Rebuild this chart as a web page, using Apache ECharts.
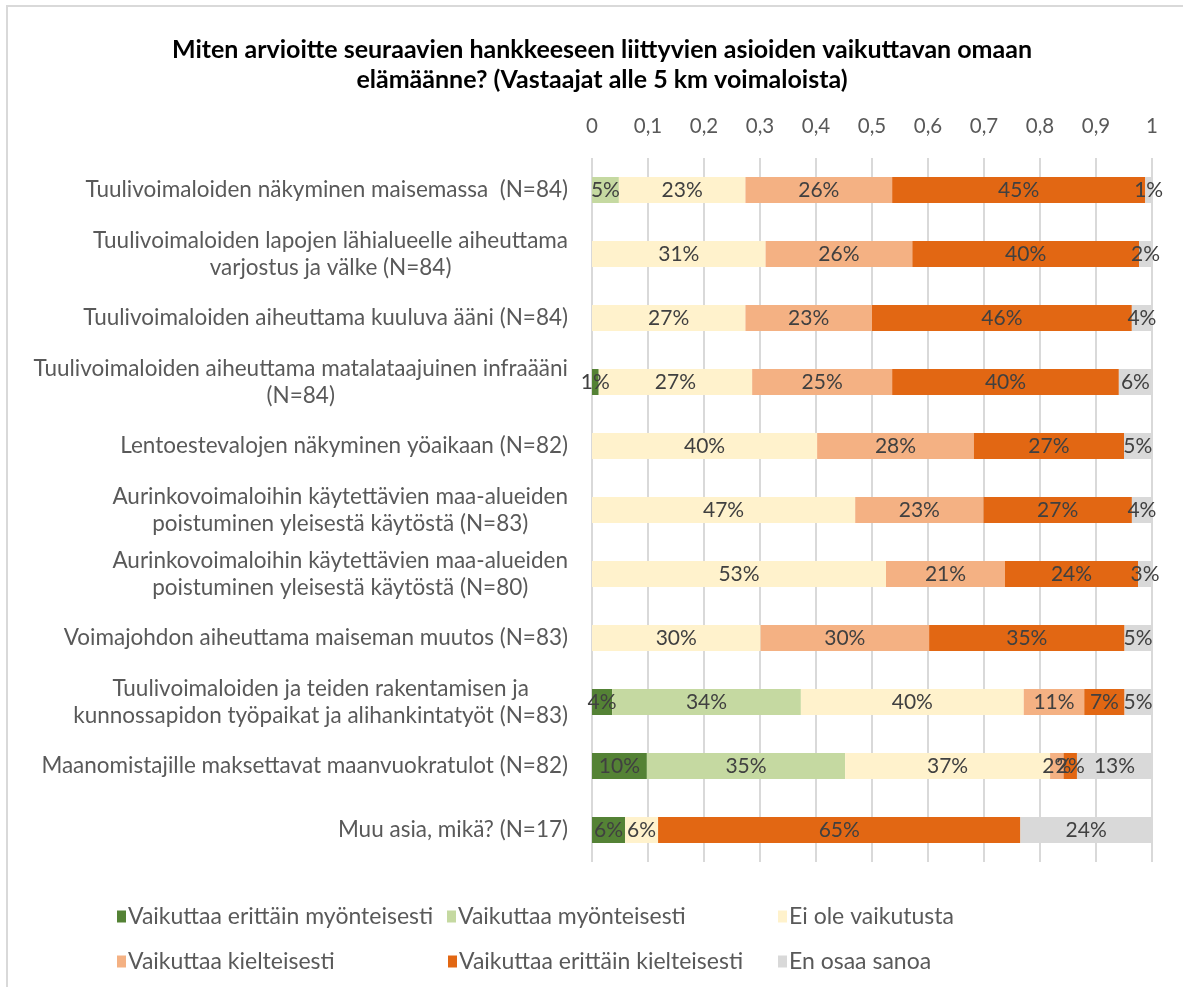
<!DOCTYPE html>
<html>
<head>
<meta charset="utf-8">
<script src="https://cdn.jsdelivr.net/npm/echarts@6/dist/echarts.min.js"></script>
<style>
html,body{margin:0;padding:0;background:#fff;}
#chart{width:1183px;height:987px;}
</style>
</head>
<body>
<div id="chart"></div>
<script>
const titleText = 'Miten arvioitte seuraavien hankkeeseen liittyvien asioiden vaikuttavan omaan\nelämäänne? (Vastaajat alle 5 km voimaloista)';

const categories = [
  'Tuulivoimaloiden näkyminen maisemassa  (N=84)',
  'Tuulivoimaloiden lapojen lähialueelle aiheuttama\nvarjostus ja välke (N=84)',
  'Tuulivoimaloiden aiheuttama kuuluva ääni (N=84)',
  'Tuulivoimaloiden aiheuttama matalataajuinen infraääni\n(N=84)',
  'Lentoestevalojen näkyminen yöaikaan (N=82)',
  'Aurinkovoimaloihin käytettävien maa-alueiden\npoistuminen yleisestä käytöstä (N=83)',
  'Aurinkovoimaloihin käytettävien maa-alueiden\npoistuminen yleisestä käytöstä (N=80)',
  'Voimajohdon aiheuttama maiseman muutos (N=83)',
  'Tuulivoimaloiden ja teiden rakentamisen ja\nkunnossapidon työpaikat ja alihankintatyöt (N=83)',
  'Maanomistajille maksettavat maanvuokratulot (N=82)',
  'Muu asia, mikä? (N=17)'
];

const seriesNames = [
  'Vaikuttaa erittäin myönteisesti',
  'Vaikuttaa myönteisesti',
  'Ei ole vaikutusta',
  'Vaikuttaa kielteisesti',
  'Vaikuttaa erittäin kielteisesti',
  'En osaa sanoa'
];

const erittainMyonteisesti = [0, 0, 0, 0.012, 0, 0, 0, 0, 0.036, 0.098, 0.059];
const myonteisesti        = [0.048, 0, 0, 0, 0, 0, 0, 0, 0.337, 0.354, 0];
const eiVaikutusta        = [0.226, 0.310, 0.274, 0.274, 0.402, 0.470, 0.525, 0.301, 0.398, 0.366, 0.059];
const kielteisesti        = [0.262, 0.262, 0.226, 0.250, 0.280, 0.229, 0.2125, 0.301, 0.108, 0.024, 0];
const erittainKielteisesti= [0.452, 0.4048, 0.464, 0.4048, 0.268, 0.2651, 0.2375, 0.349, 0.072, 0.024, 0.647];
const enOsaaSanoa         = [0.012, 0.024, 0.036, 0.060, 0.049, 0.036, 0.025, 0.048, 0.048, 0.134, 0.2353];

const xTicks = ['0','0,1','0,2','0,3','0,4','0,5','0,6','0,7','0,8','0,9','1'];

const seriesValues = [erittainMyonteisesti, myonteisesti, eiVaikutusta, kielteisesti, erittainKielteisesti, enOsaaSanoa];
const colors = ['#548235', '#C5D9A1', '#FFF2CC', '#F4B183', '#E26713', '#D9D9D9'];

const FONT = 'Lato';

const chart = echarts.init(document.getElementById('chart'), null, {renderer: 'canvas'});

const series = seriesNames.map((name, i) => ({
  name: name,
  type: 'bar',
  stack: 'total',
  barWidth: 26,
  itemStyle: {color: colors[i]},
  label: {
    show: true,
    position: 'inside',
    color: '#404040',
    fontFamily: FONT,
    fontSize: 21,
    formatter: p => p.value > 0 ? Math.round(p.value * 100) + '%' : ''
  },
  emphasis: {disabled: true},
  data: seriesValues[i]
}));

const legendPos = [
  [112, 900], [442, 900], [773, 900],
  [112, 945], [443, 945], [773, 945]
];
const legends = seriesNames.map((name, i) => ({
  data: [name],
  left: legendPos[i][0],
  top: legendPos[i][1],
  orient: 'horizontal',
  icon: 'rect',
  itemWidth: 9,
  itemHeight: 12,
  itemGap: 0,
  selectedMode: false,
  textStyle: {color: '#595959', fontFamily: FONT, fontSize: 23, padding: [0, 0, 0, -3]}
}));

const option = {
  animation: false,
  backgroundColor: '#fff',
  title: {
    text: titleText,
    left: 597,
    textAlign: 'center',
    top: 30,
    textStyle: {fontFamily: FONT, fontWeight: 'bold', fontSize: 25, color: '#000', lineHeight: 30}
  },
  legend: legends,
  grid: {left: 592, right: 31, top: 158, bottom: 125, containLabel: false},
  xAxis: {
    type: 'value',
    position: 'top',
    min: 0,
    max: 1,
    interval: 0.1,
    axisLine: {show: false},
    axisTick: {show: false},
    axisLabel: {
      color: '#595959',
      fontFamily: FONT,
      fontSize: 20.5,
      margin: 21,
      formatter: v => xTicks[Math.round(v * 10)]
    },
    splitLine: {show: true, lineStyle: {color: '#D9D9D9', width: 2}}
  },
  yAxis: {
    type: 'category',
    inverse: true,
    data: categories,
    axisLine: {show: false},
    axisTick: {show: false},
    axisLabel: {
      margin: 24,
      color: '#595959',
      fontFamily: FONT,
      fontSize: 22.5,
      lineHeight: 27,
      formatter: v => v.split('\n').map(l => '{c|' + l + '}').join('\n'),
      rich: {c: {align: 'center', color: '#595959', fontFamily: FONT, fontSize: 22.5, lineHeight: 27}}
    }
  },
  graphic: [{
    type: 'rect',
    shape: {x: 7, y: 6, width: 1200, height: 1000},
    style: {fill: 'none', stroke: '#D9D9D9', lineWidth: 2},
    silent: true,
    z: -1
  }],
  series: series
};

chart.setOption(option);
</script>
</body>
</html>
